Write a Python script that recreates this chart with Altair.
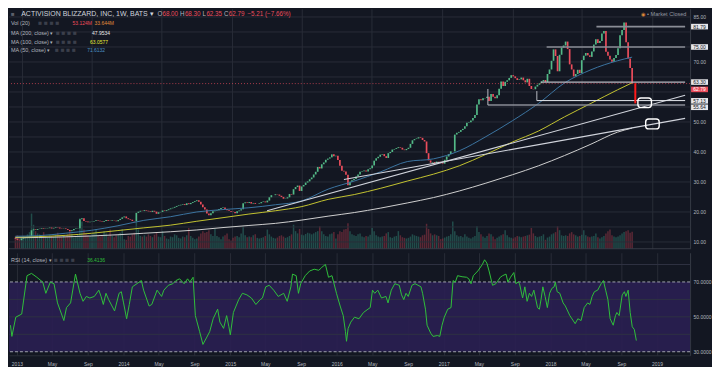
import altair as alt
import pandas as pd

# ---------------- data ----------------
close = [
    11.0, 10.7, 10.6, 11.1,                      # 2012 Dec
    11.3, 11.5, 11.6, 11.8,                      # 2013 Jan
    13.9, 14.2, 14.0, 14.3,                      # Feb
    14.4, 14.6, 14.4, 14.5,                      # Mar
    14.6, 14.8, 14.5, 14.7, 14.9,                # Apr
    14.8, 14.5, 14.4, 14.5,                      # May
    14.3, 14.0, 13.6, 13.9,                      # Jun
    14.3, 14.5, 14.6, 17.6, 17.9,                # Jul
    17.0, 16.8, 16.6, 16.7,                      # Aug
    16.8, 17.0, 17.2, 17.1, 16.9,                # Sep
    16.7, 17.0, 17.3, 17.1,                      # Oct
    17.0, 17.2, 17.1, 16.9,                      # Nov
    17.3, 17.7, 18.2, 18.5, 17.9,                # Dec
    17.6, 17.4, 17.0, 16.9,                      # 2014 Jan
    19.7, 20.1, 20.4, 20.3,                      # Feb
    20.6, 20.4, 20.2, 20.0, 20.4,                # Mar
    20.1, 19.4, 19.9, 20.0,                      # Apr
    20.5, 20.3, 20.6, 20.9,                      # May
    21.2, 21.4, 21.7, 22.0, 22.2,                # Jun
    22.4, 22.6, 22.3, 22.9,                      # Jul
    22.6, 23.0, 23.3, 23.6,                      # Aug
    23.9, 23.4, 22.5, 21.6, 20.8,                # Sep
    19.5, 18.9, 19.6, 20.2,                      # Oct
    20.4, 20.6, 21.0, 21.3,                      # Nov
    21.5, 21.0, 20.6, 20.3, 20.1,                # Dec
    20.0, 19.6, 20.2, 20.5,                      # 2015 Jan
    20.9, 22.9, 23.2, 23.0,                      # Feb
    23.3, 22.8, 23.0, 22.7, 22.7,                # Mar
    22.9, 23.3, 23.5, 23.2,                      # Apr
    23.8, 24.9, 25.6, 25.6,                      # May
    25.9, 25.8, 25.4, 25.0, 24.4,                # Jun
    24.5, 24.9, 26.0, 25.8,                      # Jul
    27.6, 28.3, 28.8, 27.0, 28.5,                # Aug
    29.0, 29.8, 30.2, 30.9,                      # Sep
    31.5, 32.5, 33.4, 35.0,                      # Oct
    34.5, 35.9, 36.5, 37.4, 37.8,                # Nov
    38.2, 39.2, 38.6, 38.7,                      # Dec
    37.3, 35.4, 33.7, 33.5,                      # 2016 Jan
    32.4, 28.9, 30.1, 30.6, 31.0,                # Feb
    31.8, 32.5, 33.4, 33.6,                      # Mar
    33.8, 33.5, 34.2, 34.6,                      # Apr
    35.5, 37.1, 37.9, 38.4, 39.1,                # May
    39.3, 38.6, 38.0, 39.6,                      # Jun
    40.0, 40.8, 41.0, 41.3,                      # Jul
    41.6, 41.4, 40.8, 40.6, 41.0,                # Aug
    41.4, 42.7, 43.9, 44.3,                      # Sep
    44.5, 44.9, 44.7, 44.0, 43.5,                # Oct
    39.6, 37.2, 36.4, 36.6,                      # Nov
    36.2, 36.8, 36.7, 36.3,                      # Dec
    36.1, 37.4, 38.5, 39.3, 40.2,                # 2017 Jan
    40.2, 45.8, 46.4, 46.7,                      # Feb
    47.3, 47.7, 48.6, 49.7,                      # Mar
    49.9, 50.5, 51.3, 52.3,                      # Apr
    55.8, 57.6, 57.2, 57.9, 58.0,                # May
    58.4, 57.0, 59.3, 58.4,                      # Jun
    57.9, 58.9, 61.1, 63.5, 62.0,                # Jul
    63.4, 63.9, 64.7, 65.6,                      # Aug
    65.2, 64.6, 64.0, 64.2,                      # Sep
    64.8, 63.9, 63.2, 64.4, 62.0,                # Oct
    61.0, 60.9, 61.8, 62.4,                      # Nov
    62.9, 63.5, 64.0, 63.3,                      # Dec
    66.0, 67.5, 70.4, 74.2, 72.0,                # 2018 Jan
    66.9, 72.4, 74.8, 75.5,                      # Feb
    76.8, 74.3, 69.2, 67.5,                      # Mar
    65.2, 66.0, 67.4, 66.3, 70.6,                # Apr
    72.1, 73.0, 72.2, 71.7,                      # May
    73.5, 75.8, 77.6, 76.3,                      # Jun
    77.0, 79.5, 80.3, 73.4, 72.1,                # Jul
    70.8, 70.1, 71.3, 72.3,                      # Aug
    74.6, 78.9, 80.7, 83.2,                      # Sep
    76.6, 71.2, 68.0, 62.79,                     # Oct
]
first_open = 11.2

volume = [
    38, 42, 30, 35,
    40, 36, 45, 52,
    110, 75, 55, 48,
    45, 40, 52, 38,
    35, 42, 40, 38, 44,
    50, 38, 36, 40,
    42, 45, 55, 48,
    35, 40, 45, 95, 85,
    60, 48, 42, 40,
    45, 50, 62, 40, 38,
    42, 55, 48, 38,
    60, 40, 36, 42,
    45, 50, 62, 30, 28,
    40, 38, 45, 50,
    85, 60, 40, 38,
    42, 38, 45, 40, 36,
    44, 50, 38, 36,
    55, 40, 32, 30,
    38, 36, 45, 42, 34,
    32, 38, 36, 42,
    65, 40, 34, 30,
    32, 38, 48, 55, 50,
    52, 58, 45, 40,
    62, 40, 36, 30,
    38, 42, 48, 30, 26,
    34, 38, 40, 36,
    48, 70, 42, 36,
    38, 36, 42, 45, 34,
    32, 34, 36, 40,
    60, 45, 38, 34,
    32, 35, 40, 42, 38,
    34, 36, 40, 45,
    75, 55, 48, 62, 44,
    42, 46, 50, 48,
    45, 48, 52, 55,
    70, 55, 45, 40, 38,
    45, 48, 52, 32,
    45, 55, 52, 60,
    62, 80, 55, 45, 42,
    40, 45, 48, 38,
    36, 40, 38, 44,
    65, 55, 42, 38, 36,
    38, 40, 48, 52,
    36, 34, 38, 40,
    55, 42, 36, 34, 32,
    34, 38, 45, 42,
    40, 38, 36, 42, 44,
    78, 62, 48, 42,
    45, 42, 40, 30,
    32, 35, 38, 40, 45,
    85, 55, 42, 38,
    40, 36, 45, 38,
    34, 32, 36, 40,
    70, 52, 45, 38, 34,
    40, 48, 45, 38,
    30, 34, 38, 42, 45,
    58, 42, 36, 34,
    32, 36, 40, 38,
    36, 38, 40, 42, 44,
    65, 48, 40, 36,
    38, 40, 45, 28,
    35, 38, 45, 48, 52,
    70, 58, 42, 40,
    42, 40, 48, 52,
    45, 42, 38, 40, 44,
    58, 42, 38, 36,
    38, 40, 48, 36,
    32, 36, 40, 48, 55,
    60, 42, 38, 36,
    38, 42, 48, 52,
    55, 58, 50, 53.124,
]

# RSI(14) trace: position in weeks from the first bar, value
rsi_week = [0, 0.7, 2.6, 5.5, 8.1, 10.3, 12.9, 15.8, 17.3, 19.5, 21.3, 23.0, 26.1, 27.4, 29.4,
            31.8, 34.0, 35.5, 37.1, 38.8, 41.0, 43.2, 44.3, 45.4, 46.7, 48.0, 50.9, 53.1, 54.2,
            55.3, 56.8, 58.1, 59.6, 64.0, 65.1, 67.8, 69.1, 71.7, 73.9, 75.0, 77.2, 79.4, 80.9,
            82.7, 84.9, 86.6, 87.7, 89.3, 90.4, 92.5, 94.1, 95.8, 97.4, 99.1, 101.3, 102.4,
            104.2, 105.7, 106.8, 107.5, 109.0, 111.6, 113.4, 115.6, 117.8, 120.0, 122.1, 123.2,
            124.8, 126.5, 128.7, 130.9, 133.6, 135.3, 137.1, 137.9, 139.7, 140.8, 141.9, 144.1,
            146.3, 148.5, 150.7, 151.8, 152.9, 154.0, 155.5, 157.2, 159.4, 161.2, 162.7, 163.8,
            164.3, 165.1, 166.4, 168.2, 170.4, 172.6, 174.8, 175.9, 177.0, 178.1, 179.6, 181.4,
            183.6, 184.6, 186.2, 187.9, 190.1, 191.2, 192.3, 193.4, 194.5, 196.3, 197.8, 199.3,
            200.7, 201.5, 202.9, 203.7, 205.5, 206.6, 208.8, 209.9, 211.0, 212.1, 213.8, 215.4,
            216.4, 217.5, 218.6, 220.8, 223.0, 224.1, 225.2, 226.3, 228.5, 230.7, 231.8, 232.9,
            234.0, 235.7, 237.3, 238.4, 239.5, 240.6, 242.3, 243.2, 244.5, 246.1, 247.1, 248.2,
            248.9, 250.4, 251.5, 252.6, 253.7, 254.8, 255.9, 257.7, 258.6, 259.4, 260.3, 261.4,
            262.5, 263.6, 264.7, 265.8, 266.4, 267.3, 268.6, 270.2, 271.3, 273.5, 276.1, 277.4,
            279.0, 280.5, 282.2, 283.3, 284.4, 285.5, 287.1, 288.8, 289.9, 291.0, 292.1, 293.2,
            294.7, 295.8, 296.5, 297.6, 299.1, 300.2, 300.9, 302.0, 303.0, 304.0, 305.0, 306.0]
rsi_val = [45.2, 38.8, 49.8, 51.6, 73.6, 74.9, 72.7, 69.9, 63.5, 69.9, 69.0, 58.0, 47.9, 55.3,
           58.0, 74.5, 63.5, 58.9, 61.7, 60.8, 61.7, 65.3, 61.7, 57.1, 63.5, 59.9, 53.4, 63.5,
           64.4, 58.0, 48.9, 57.1, 67.2, 70.8, 65.3, 56.2, 57.1, 65.3, 61.7, 65.3, 68.1, 69.0,
           70.8, 71.8, 69.0, 71.8, 69.9, 72.7, 50.7, 41.5, 34.2, 37.9, 41.5, 48.9, 54.4, 47.0,
           43.4, 50.7, 44.3, 39.7, 52.5, 59.9, 63.5, 62.6, 60.8, 57.1, 59.9, 60.8, 67.2, 68.1,
           65.3, 61.7, 63.5, 58.9, 67.2, 74.5, 73.6, 63.5, 69.0, 73.6, 76.3, 77.3, 76.7, 77.8,
           79.1, 80.0, 72.7, 73.6, 63.5, 56.2, 50.7, 41.5, 36.0, 43.4, 47.0, 49.8, 48.9, 52.5,
           54.4, 55.3, 65.3, 63.5, 65.3, 60.8, 61.7, 58.0, 65.3, 69.0, 68.1, 62.6, 59.9, 63.5,
           61.7, 68.1, 69.0, 68.1, 67.2, 63.5, 54.4, 45.2, 40.6, 38.8, 39.3, 38.8, 45.2, 49.8,
           54.4, 55.3, 70.8, 69.9, 73.6, 73.0, 72.7, 71.8, 69.0, 73.6, 76.3, 80.0, 82.7, 80.9,
           76.3, 68.1, 69.0, 70.8, 72.7, 73.6, 74.5, 69.9, 72.7, 75.4, 69.0, 69.9, 69.0, 60.8,
           67.2, 58.9, 63.5, 61.7, 65.3, 55.3, 54.4, 59.9, 67.2, 61.7, 55.3, 63.5, 66.3, 67.2,
           69.9, 64.4, 63.5, 58.0, 56.2, 50.7, 46.1, 48.9, 47.9, 55.3, 58.0, 57.1, 61.7, 64.4,
           65.3, 69.0, 70.8, 65.3, 59.9, 48.9, 45.2, 50.7, 52.5, 50.7, 62.6, 64.4, 61.7, 65.3,
           52.5, 44.3, 42.8, 36.41]

ma_dates = ["2012-12-10", "2013-03-01", "2013-06-01", "2013-09-01", "2013-12-01",
            "2014-03-01", "2014-06-01", "2014-09-01", "2014-12-01", "2015-03-01",
            "2015-06-01", "2015-09-01", "2015-12-01", "2016-03-01", "2016-06-01",
            "2016-09-01", "2016-12-01", "2017-03-01", "2017-06-01", "2017-09-01",
            "2017-12-01", "2018-03-01", "2018-06-01", "2018-09-01", "2018-10-22"]
ma50 = [11.9, 12.1, 12.9, 13.9, 15.4, 17.2, 18.4, 20.0, 20.8, 21.4, 22.4, 23.7, 27.6,
        30.3, 33.4, 36.8, 37.7, 40.4, 45.1, 50.4, 56.2, 63.0, 67.4, 70.4, 71.61]
ma100 = [11.6, 11.8, 12.2, 12.9, 13.8, 14.7, 15.6, 16.9, 18.1, 19.3, 20.4, 21.8, 24.2,
         25.8, 27.9, 30.3, 32.6, 35.4, 39.2, 43.3, 47.0, 51.7, 56.2, 60.7, 63.06]
ma200 = [11.4, 11.5, 11.7, 12.0, 12.4, 12.9, 13.4, 14.0, 14.8, 15.5, 16.2, 17.3, 18.6,
         19.8, 21.3, 23.0, 24.8, 27.0, 29.6, 32.4, 35.4, 38.8, 42.6, 46.6, 47.95]

# drawn trend lines (two end points each)
trend_id = ["t1", "t1", "t2", "t2"]
trend_date = ["2015-05-03", "2019-04-24", "2016-01-25", "2019-04-24"]
trend_price = [20.4, 58.9, 30.8, 51.2]

# drawn horizontal levels
level_price = [81.79, 75.00, 63.30, 57.13, 55.64]
level_start = ["2018-06-20", "2017-12-29", "2017-12-09", "2017-11-25", "2017-06-08"]
level_color = ["#8a8d96", "#8a8d96", "#b8bac2", "#e6e8ee", "#8a8d96"]
level_width = [1.6, 1.6, 1.2, 1.0, 1.6]
link_start = ["2017-11-25", "2017-06-08"]
link_top = [60.3, 61.0]
link_bottom = [57.13, 55.64]

# right axis tags: value shown and where the tag sits (tags are pushed apart)
tag_value = [81.79, 75.00, 63.30, 62.79, 57.13, 55.64]
tag_pos = [81.79, 75.00, 63.30, 60.85, 57.05, 54.90]
tag_kind = ["w", "w", "w", "r", "w", "w"]

# annotation boxes (rounded rectangles)
box_x1 = ["2018-11-11", "2018-12-08"]
box_x2 = ["2018-12-28", "2019-01-24"]
box_y1 = [58.0, 51.0]
box_y2 = [54.8, 47.7]

# red drop projection
drop_date = "2018-11-02"
drop_top, drop_bottom = 62.9, 56.2

# ---------------- frame ----------------
W, H1, H2 = 684, 241, 103
SX = W / 697.0
BG = "#131722"
GRID = "#282c37"
TXT = "#b2b5be"
UP, DOWN = "#53b987", "#eb4d5c"
FONT = "Liberation Sans"

x_dom = [alt.DateTime(year=2012, month=12, date=5), alt.DateTime(year=2019, month=4, date=24)]
xs = alt.Scale(domain=x_dom)
ps = alt.Scale(domain=[7.74, 87.74])
rs = alt.Scale(domain=[27.97, 86.76])

tick_dates = []
for yr in range(2013, 2020):
    for m in (1, 5, 9):
        if yr == 2019 and m > 1:
            continue
        tick_dates.append(alt.DateTime(year=yr, month=m, date=1))

label_expr = "month(datum.value) == 0 ? timeFormat(datum.value, '%Y') : timeFormat(datum.value, '%b')"

dates = pd.date_range(end="2018-10-22", periods=len(close), freq="W-MON")
assert len(volume) == len(close) and len(rsi_week) == len(rsi_val)
opens = [first_open] + close[:-1]
df = pd.DataFrame({"date": dates.strftime("%Y-%m-%d"), "open": opens, "close": close,
                   "volume": volume})
df["col"] = [UP if c >= o else DOWN for o, c in zip(opens, close)]
df["vcol"] = ["#2b6f66" if c >= o else "#8c3442" for o, c in zip(opens, close)]

rsi_df = pd.DataFrame({
    "date": [(dates[0] + pd.Timedelta(days=7 * w)).strftime("%Y-%m-%dT%H:%M") for w in rsi_week],
    "rsi": rsi_val})

ma_df = pd.DataFrame({
    "date": ma_dates * 3,
    "value": ma200 + ma100 + ma50,
    "ma": ["ma200"] * len(ma_dates) + ["ma100"] * len(ma_dates) + ["ma50"] * len(ma_dates),
    "col": ["#d0d0d0"] * len(ma_dates) + ["#c4c430"] * len(ma_dates) + ["#3b74a0"] * len(ma_dates),
})

xgrid = alt.Axis(values=tick_dates, grid=True, gridColor=GRID, labels=False, ticks=False,
                 domain=False, title=None)

# ---------------- price panel ----------------
vol = alt.Chart(df).mark_bar(width=1.5, opacity=0.6).encode(
    x=alt.X("date:T", scale=xs, axis=xgrid),
    y=alt.Y("volume:Q", scale=alt.Scale(domain=[0, 750]), axis=None),
    color=alt.Color("vcol:N", scale=None),
)

price_axis = alt.Axis(orient="right", values=[10, 15, 20, 25, 30, 35, 40, 45, 50, 65, 70, 80, 85],
                      format=".2f", grid=False, ticks=False, domain=True, domainColor="#363a45",
                      labelColor=TXT, labelFontSize=5, labelPadding=3, labelFont=FONT, title=None)

grid_df = pd.DataFrame({"p": [10, 15, 20, 25, 30, 35, 40, 45, 50, 55, 60, 65, 70, 75, 80, 85]})
pgrid = alt.Chart(grid_df).mark_rule(color=GRID, strokeWidth=1).encode(
    y=alt.Y("p:Q", scale=ps, axis=price_axis))

candles = alt.Chart(df).mark_bar(width=1.7).encode(
    x=alt.X("date:T", scale=xs),
    y=alt.Y("open:Q", scale=ps),
    y2="close:Q",
    color=alt.Color("col:N", scale=None),
)

ma_lines = alt.Chart(ma_df).mark_line(strokeWidth=1, interpolate="monotone").encode(
    x=alt.X("date:T", scale=xs),
    y=alt.Y("value:Q", scale=ps),
    color=alt.Color("col:N", scale=None),
    detail="ma:N",
)

tr_df = pd.DataFrame({"id": trend_id, "date": trend_date, "price": trend_price})
trend = alt.Chart(tr_df).mark_line(color="#d1d4dc", strokeWidth=1.1, clip=True).encode(
    x=alt.X("date:T", scale=xs), y=alt.Y("price:Q", scale=ps), detail="id:N")

lv_df = pd.DataFrame({"price": level_price, "start": level_start, "col": level_color,
                      "w": level_width, "end": ["2019-04-24"] * len(level_price)})
levels = alt.Chart(lv_df).mark_rule().encode(
    x=alt.X("start:T", scale=xs), x2="end:T", y=alt.Y("price:Q", scale=ps),
    color=alt.Color("col:N", scale=None), strokeWidth=alt.StrokeWidth("w:Q", scale=None))

lk_df = pd.DataFrame({"start": link_start, "top": link_top, "bottom": link_bottom})
vlinks = alt.Chart(lk_df).mark_rule(strokeWidth=1, color="#b8bac2").encode(
    x=alt.X("start:T", scale=xs), y=alt.Y("top:Q", scale=ps), y2="bottom:Q")

last_df = pd.DataFrame({"price": [close[-1]]})
lastline = alt.Chart(last_df).mark_rule(color=DOWN, strokeDash=[1, 2], strokeWidth=1, opacity=0.7).encode(
    y=alt.Y("price:Q", scale=ps))

drop_df = pd.DataFrame({"date": [drop_date], "top": [drop_top], "bottom": [drop_bottom]})
drop = alt.Chart(drop_df).mark_rule(color="#ff1a1a", strokeWidth=2).encode(
    x=alt.X("date:T", scale=xs), y=alt.Y("top:Q", scale=ps), y2="bottom:Q")

bx_df = pd.DataFrame({"x1": box_x1, "x2": box_x2, "y1": box_y1, "y2": box_y2})
boxes = alt.Chart(bx_df).mark_rect(fill=None, stroke="#ffffff", strokeWidth=1.4, cornerRadius=3).encode(
    x=alt.X("x1:T", scale=xs), x2="x2:T", y=alt.Y("y1:Q", scale=ps), y2="y2:Q")

# right side price tags
tag_df = pd.DataFrame({"pos": tag_pos, "value": tag_value,
                       "bg": ["#e6e7ea" if k == "w" else DOWN for k in tag_kind],
                       "fg": ["#131722" if k == "w" else "#ffffff" for k in tag_kind]})
tag_df["label"] = tag_df["value"].map(lambda v: f"{v:.2f}")
tags = alt.Chart(tag_df).mark_tick(thickness=5.6, size=17, opacity=1).encode(
    x=alt.value(W + 9.5), y=alt.Y("pos:Q", scale=ps), color=alt.Color("bg:N", scale=None))
tag_txt = alt.Chart(tag_df).mark_text(fontSize=5, font=FONT, align="center", baseline="middle").encode(
    x=alt.value(W + 9.5), y=alt.Y("pos:Q", scale=ps), text="label:N",
    color=alt.Color("fg:N", scale=None))

sep = alt.Chart(pd.DataFrame({"p": [7.74]})).mark_rule(color="#363a45", strokeWidth=1).encode(
    y=alt.Y("p:Q", scale=ps))


# legend texts
def txt(s, x, y, color="#d1d4dc", size=5.5):
    return alt.Chart(pd.DataFrame({"t": [s]})).mark_text(
        align="left", baseline="middle", fontSize=size, font=FONT, color=color
    ).encode(x=alt.value(x * SX), y=alt.value(y * 0.972), text="t:N")


ICON = "■ ■ ■ ■"
ICOL = "#3b3f4b"
legend_layers = [
    txt("■", 2, 5, "#5d606b", 6),
    txt("ACTIVISION BLIZZARD, INC, 1W, BATS ▾", 12.5, 5, "#d1d4dc", 7),
    txt("O", 152, 5, TXT, 6.3), txt("68.00", 157, 5, DOWN, 6.3),
    txt("H", 175, 5, TXT, 6.3), txt("68.30", 180, 5, DOWN, 6.3),
    txt("L", 198, 5, TXT, 6.3), txt("62.35", 202, 5, DOWN, 6.3),
    txt("C", 220, 5, TXT, 6.3), txt("62.79", 225, 5, DOWN, 6.3),
    txt("−5.21 (−7.66%)", 244, 5, DOWN, 6.3),
    txt("Vol (20)", 2, 15, TXT), txt(ICON, 30, 15, ICOL, 6.5),
    txt("53.124M", 65, 15, DOWN, 5), txt("33.644M", 87.5, 15, "#e08b3a", 5),
    txt("MA (200, close) ▾", 2, 25, TXT), txt(ICON, 48, 25, ICOL, 6.5),
    txt("47.9534", 85, 25, "#e8e8e8", 5),
    txt("MA (100, close) ▾", 2, 34, TXT), txt(ICON, 48, 34, ICOL, 6.5),
    txt("63.0577", 83, 34, "#e6e633", 5),
    txt("MA (50, close) ▾", 2, 43, TXT), txt(ICON, 47, 43, ICOL, 6.5),
    txt("71.6132", 80, 43, "#4a8fc2", 5),
    txt("◉", 647, 5, "#e08b3a", 5.5), txt("• Market Closed", 653, 5, "#9598a1", 5.6),
]

price = alt.layer(
    pgrid, candles, ma_lines, trend, levels, vlinks, lastline, drop, boxes, sep, tags, tag_txt,
    *legend_layers
)
price_panel = alt.layer(vol, price).resolve_scale(y="independent").properties(width=W, height=H1)

# ---------------- RSI panel ----------------
band_df = pd.DataFrame({"lo": [30], "hi": [70]})
band = alt.Chart(band_df).mark_rect(color="#2a1f52", opacity=0.9).encode(
    x=alt.value(0), x2=alt.value(W),
    y=alt.Y("lo:Q", scale=rs, axis=alt.Axis(orient="right", values=[30, 40, 50, 60, 70, 80],
                                             format=".4f", grid=False, ticks=False, domain=True,
                                             domainColor="#363a45", labelColor=TXT,
                                             labelFontSize=5, labelPadding=3, labelFont=FONT,
                                             title=None)),
    y2="hi:Q")
rgrid = alt.Chart(pd.DataFrame({"r": [40, 50, 60, 80]})).mark_rule(color="#2e3142").encode(
    y=alt.Y("r:Q", scale=rs))
dash = alt.Chart(pd.DataFrame({"r": [30, 70]})).mark_rule(color="#a0a3ad", strokeDash=[3, 2],
                                                           strokeWidth=1).encode(
    y=alt.Y("r:Q", scale=rs))
rsi_line = alt.Chart(rsi_df).mark_line(color="#2fbf3a", strokeWidth=1).encode(
    x=alt.X("date:T", scale=xs, axis=alt.Axis(values=tick_dates, labelExpr=label_expr, grid=True,
                                              gridColor=GRID, ticks=False, domain=True,
                                              domainColor="#2a2e39", labelColor=TXT,
                                              labelFontSize=5, labelFont=FONT, labelPadding=6,
                                              title=None, labelFlush=False)),
    y=alt.Y("rsi:Q", scale=rs))


def rtxt(s, x, y, color, size=5.5):
    return alt.Chart(pd.DataFrame({"t": [s]})).mark_text(
        align="left", baseline="middle", fontSize=size, font=FONT, color=color
    ).encode(x=alt.value(x * SX), y=alt.value((y - 252) * 0.972), text="t:N")


rsi_legend = [
    rtxt("RSI (14, close) ▾", 2, 260, TXT),
    rtxt(ICON, 46, 260, ICOL, 6.5),
    rtxt("36.4136", 80, 260, "#2fbf3a", 5),
]
rsi_panel = alt.layer(band, rgrid, dash, rsi_line, *rsi_legend).properties(width=W, height=H2)

chart = alt.vconcat(price_panel, rsi_panel, spacing=3).configure(
    background=BG, padding=0
).configure_view(stroke=None).configure_axis(labelFont=FONT)

chart.save("out.html", embed_options={"renderer": "svg", "actions": False})
